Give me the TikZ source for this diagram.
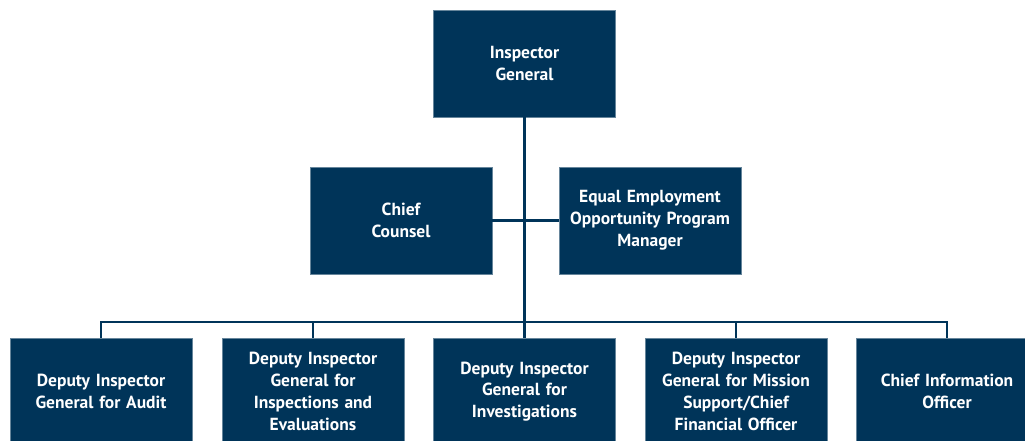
\documentclass[tikz,border=0pt]{standalone}
\usepackage{fontspec}
\setmainfont{PT Sans}
\definecolor{navy}{HTML}{003459}
\begin{document}
\begin{tikzpicture}[x=1pt,y=-1pt,
  box/.style={fill=navy,draw=navy!60!white,line width=0.6pt,minimum width=182pt,minimum height=107pt,
    text=white,font=\bfseries\fontsize{17.5}{21.8}\selectfont,align=center,inner sep=2pt,text width=176pt},
  conn/.style={draw=navy,line width=2.8pt}]
\useasboundingbox (0,0) rectangle (1025,440);
\clip (0,0) rectangle (1025,440);
\node[box] (ig) at (524.5,63.5) {Inspector\\General};
\node[box] (cc) at (401,220.5) {Chief\\Counsel};
\node[box] (eeo) at (650,220.5) {Equal Employment\\Opportunity Program\\Manager};
\node[box] (b1) at (101,391.5) {Deputy Inspector\\General for Audit};
\node[box] (b2) at (313,391.5) {Deputy Inspector\\General for\\Inspections and\\Evaluations};
\node[box] (b3) at (524.5,391.5) {Deputy Inspector\\General for\\Investigations};
\node[box] (b4) at (736,391.5) {Deputy Inspector\\General for Mission\\Support/Chief\\Financial Officer};
\node[box] (b5) at (947,391.5) {Chief Information\\Officer};
\coordinate (bus) at (524.5,322);
\draw[conn] (ig.south) -- (bus);
\draw[conn] (cc.east) -- (eeo.west);
\draw[conn] (b1.north) -- (b1.north |- bus) -- (b5.north |- bus) -- (b5.north);
\draw[conn] (b2.north) -- (b2.north |- bus);
\draw[conn] (b4.north) -- (b4.north |- bus);
\draw[conn] (b3.north) -- (b3.north |- bus);
\end{tikzpicture}
\end{document}
